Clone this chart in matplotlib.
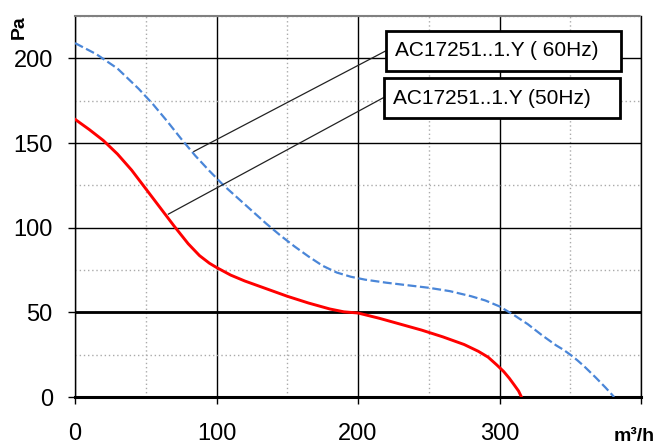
import matplotlib
matplotlib.use("Agg")
import matplotlib.pyplot as plt
from matplotlib.patches import Rectangle
from matplotlib.ticker import MultipleLocator

plt.rcParams['font.family'] = ['Liberation Sans', 'DejaVu Sans']

# fan curves, airflow (m3/h) vs static pressure (Pa)
q_50hz = [0, 10, 20, 30, 40, 50, 60, 70, 80, 88, 95, 100, 110, 120, 135, 150, 165, 180,
          190, 200, 215, 230, 245, 260, 275, 285, 292, 298, 303, 307, 310.5, 313.5, 315.5]
p_50hz = [164, 158, 151.5, 143.5, 134, 123, 112, 101, 90.5, 83.5, 79, 76.5, 72, 68.5, 64,
          59.5, 55.5, 52, 50.3, 49.6, 46.5, 43, 39.5, 35.5, 31, 27, 23.5, 19, 15,
          11, 7, 3.5, 0]

q_60hz = [0, 15, 30, 45, 55, 65, 75, 85, 95, 105, 115, 125, 135, 145, 155, 165, 175, 185,
          195, 205, 220, 235, 250, 265, 280, 290, 300, 310, 320, 330, 340, 345, 350, 355,
          360, 368, 375, 381]
p_60hz = [209, 202.5, 194, 182, 173, 163, 152.5, 142.5, 133.5, 125, 117.5, 110, 102.5,
          95.5, 89, 83, 77.5, 73.5, 71, 69.3, 67.5, 66, 64.5, 62.5, 59.5, 57, 53.5, 48.5,
          43, 36.5, 30.5, 28, 25, 21.7, 18, 11.5, 5.5, 0]

label_60 = "AC17251..1.Y ( 60Hz)"
label_50 = "AC17251..1.Y (50Hz)"
# leader line ends (curve point -> label box)
lead_60 = ([84, 221], [145, 205])
lead_50 = ([66, 218.5], [108, 177])

x_ticks = [0, 100, 200, 300, 400]
x_labels = ['0', '100', '200', '300', '']
y_ticks = [0, 50, 100, 150, 200]

W, H = 659, 444
fig = plt.figure(figsize=(W / 100, H / 100), dpi=100)
ax = fig.add_axes([75 / W, (H - 397) / H, (641 - 75) / W, (397 - 16) / H])

ax.set_xlim(0, 400)
ax.set_ylim(0, 225)

ax.xaxis.set_minor_locator(MultipleLocator(50))
ax.yaxis.set_minor_locator(MultipleLocator(25))
ax.set_xticks(x_ticks)
ax.set_xticklabels(x_labels)
ax.set_yticks(y_ticks)

ax.grid(which='major', color='black', lw=1.0, zorder=1)
ax.grid(which='minor', color='#aaaaaa', lw=1.0, linestyle=(0, (1, 2)), zorder=1)
ax.axhline(50, color='black', lw=2.0, zorder=1.5)
ax.set_axisbelow(True)

ax.tick_params(which='major', direction='out', length=5, width=1, labelsize=17, color='black')
ax.tick_params(axis='y', pad=11)
ax.tick_params(axis='x', pad=14)
ax.tick_params(which='minor', length=0)

for side in ['left', 'right']:
    ax.spines[side].set_linewidth(1.0)
ax.spines['bottom'].set_linewidth(2.2)
ax.spines['top'].set_color('#808080')
ax.spines['top'].set_linestyle((0, (1, 1)))
ax.spines['top'].set_linewidth(1.5)

ax.plot(q_50hz, p_50hz, color='#ff0000', lw=2.1, zorder=3, solid_joinstyle='round')
ax.plot(q_60hz, p_60hz, color='#4a86d8', lw=1.6, dashes=(4, 1.6), zorder=3)

ax.plot(lead_60[0], lead_60[1], color='#222222', lw=0.9, zorder=4)
ax.plot(lead_50[0], lead_50[1], color='#222222', lw=0.9, zorder=4)

# label boxes, in figure pixels
for (x0, y0, x1, y1, tx, txt) in [(386, 31, 621, 71, 395, label_60),
                                  (384, 78, 620, 118, 393, label_50)]:
    fig.patches.append(Rectangle((x0 / W, 1 - y1 / H), (x1 - x0) / W, (y1 - y0) / H,
                                 transform=fig.transFigure, facecolor='white',
                                 edgecolor='black', lw=2.0, zorder=5))
    fig.text(tx / W, 1 - (y0 + y1) / 2 / H, txt, fontsize=15, va='center', ha='left',
             zorder=6)

fig.text(19 / W, 1 - 27 / H, 'Pa', rotation=90, fontsize=14, fontweight='bold',
         ha='center', va='center')
fig.text(634 / W, 1 - 436 / H, 'm³/h', fontsize=14, fontweight='bold',
         ha='center', va='center')

fig.savefig('out.png', dpi=100)
